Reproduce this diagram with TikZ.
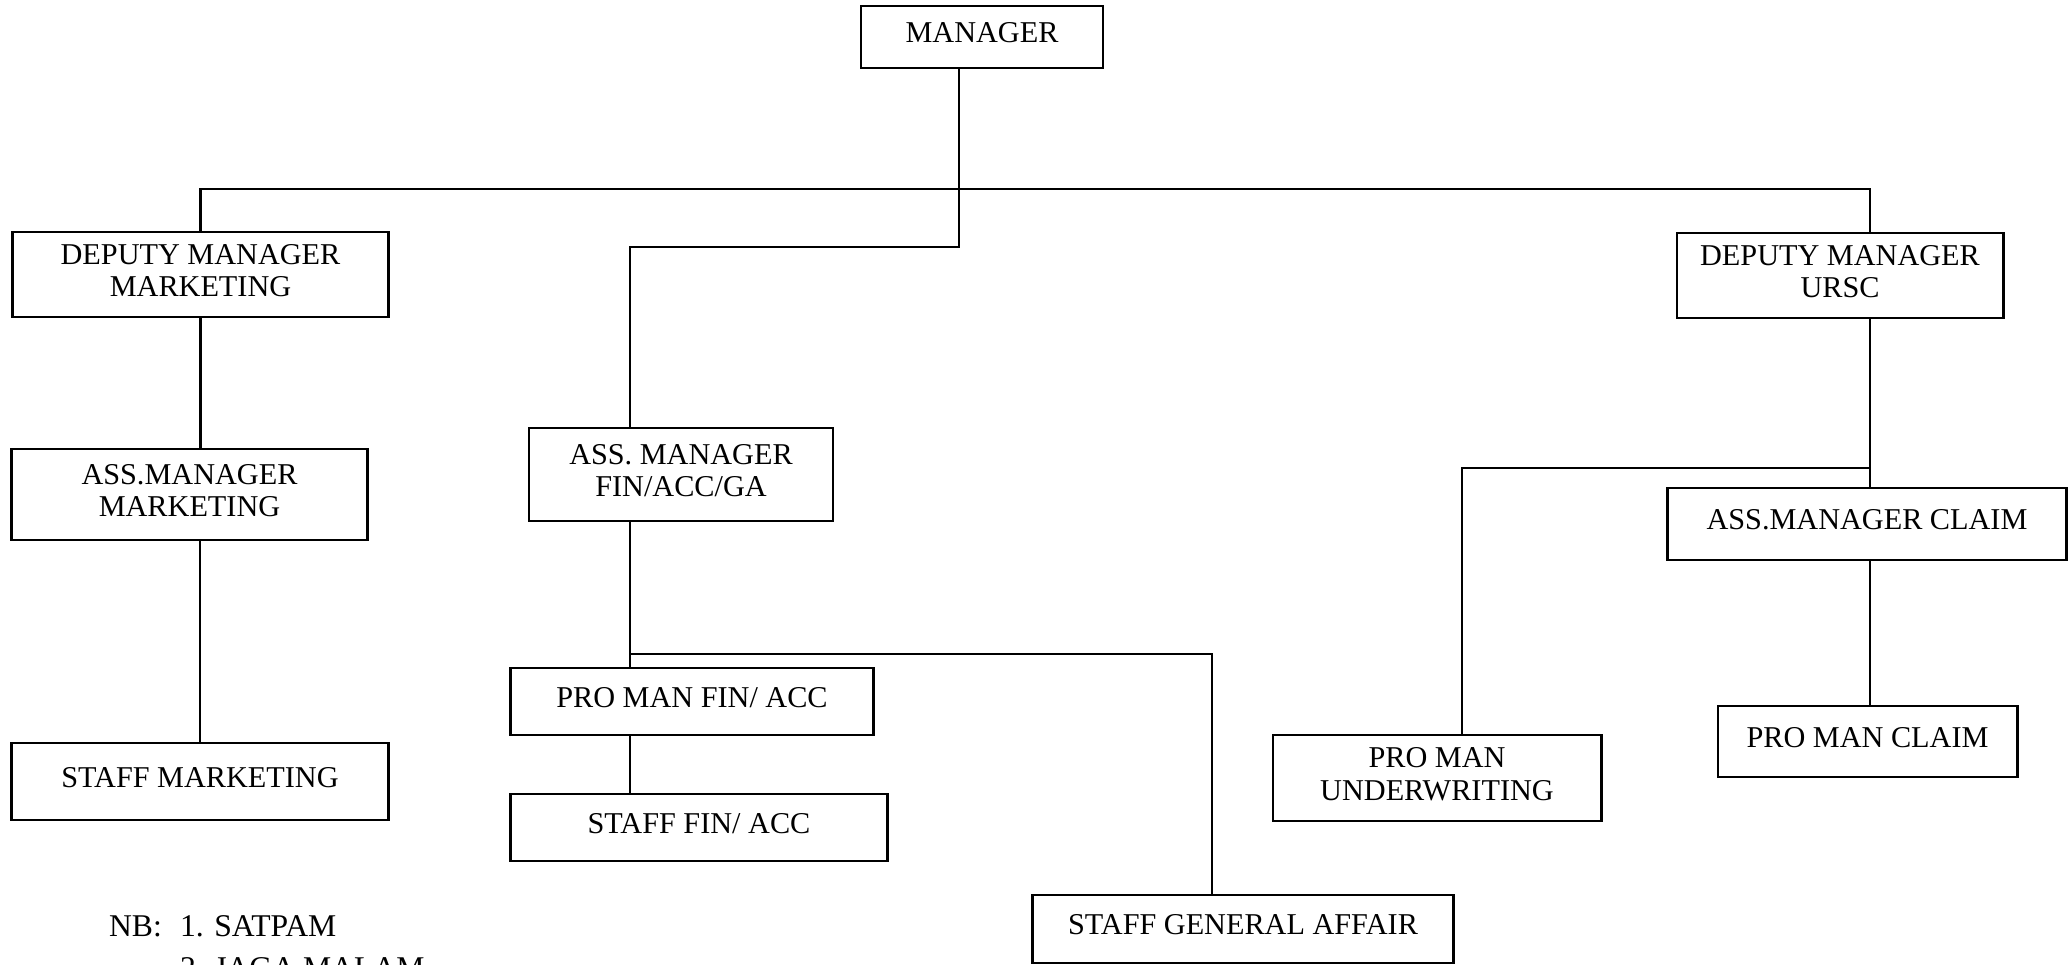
\documentclass[tikz,border=0pt]{standalone}
\usepackage{fontspec}
\setmainfont{Liberation Serif}

\begin{document}
\begin{tikzpicture}[x=0.01cm, y=-0.01cm, line width=0.6pt,
  font=\fontsize{8.6}{9.2}\selectfont,
  box/.style={draw, line width=0.8pt, inner sep=0pt, align=center,
    text depth=0.08cm},
  note/.style={anchor=base west, inner sep=0pt,
    font=\fontsize{9}{11}\selectfont}]
  \useasboundingbox (0,0) rectangle (2068,965);

  % boxes
  \node[box, minimum width=2.42cm, minimum height=0.62cm] (mgr) at (982,37) {MANAGER};
  \node[box, minimum width=3.75cm, minimum height=0.85cm] (dmm) at (200.5,274.5) {DEPUTY MANAGER\\MARKETING};
  \node[box, minimum width=3.26cm, minimum height=0.85cm] (dmu) at (1840,275.5) {DEPUTY MANAGER\\URSC};
  \node[box, minimum width=3.55cm, minimum height=0.91cm] (amm) at (189.5,494.5) {ASS.MANAGER\\MARKETING};
  \node[box, minimum width=3.76cm, minimum height=0.77cm] (smk) at (200,781.5) {STAFF MARKETING};
  \node[box, minimum width=3.04cm, minimum height=0.93cm] (amf) at (681,474.5) {ASS. MANAGER\\FIN/ACC/GA};
  \node[box, minimum width=3.62cm, minimum height=0.67cm] (pmf) at (692,701.5) {PRO MAN FIN/ ACC};
  \node[box, minimum width=3.76cm, minimum height=0.67cm] (sfa) at (699,827.5) {STAFF FIN/ ACC};
  \node[box, minimum width=4.20cm, minimum height=0.68cm] (sga) at (1243,929) {STAFF GENERAL AFFAIR};
  \node[box, minimum width=3.28cm, minimum height=0.86cm] (pmu) at (1437,778) {PRO MAN\\UNDERWRITING};
  \node[box, minimum width=3.98cm, minimum height=0.72cm] (amc) at (1867,524) {ASS.MANAGER CLAIM};
  \node[box, minimum width=2.99cm, minimum height=0.71cm] (pmc) at (1867.5,741.5) {PRO MAN CLAIM};

  % junctions
  \coordinate (top) at (959,189);
  \coordinate (ursc) at (1870,189);
  \coordinate (finx) at (630,247);
  \coordinate (gafork) at (630,654);
  \coordinate (gax) at (1212,654);
  \coordinate (uwfork) at (1870,468);
  \coordinate (uwx) at (1462,468);

  % connectors
  \draw (mgr.south -| top) -- (top);
  \draw (dmm.north) |- (ursc) -- (dmu.north -| ursc);
  \draw (top) |- (finx) -- (amf.north -| finx);
  \draw (dmm.south) -- (dmm.south |- amm.north);
  \draw (smk.north |- amm.south) -- (smk.north);
  \draw (amf.south -| gafork) -- (pmf.north -| gafork);
  \draw (gafork) -- (gax) -- (sga.north -| gax);
  \draw (pmf.south -| gafork) -- (sfa.north -| gafork);
  \draw (dmu.south -| uwfork) -- (amc.north -| uwfork);
  \draw (uwfork) -- (uwx) -- (pmu.north -| uwx);
  \draw (amc.south -| uwfork) -- (pmc.north -| uwfork);

  % note
  \node[note] (nb) at (108,937) {NB:};
  \node[note] (satpam) at (179,937) {1. SATPAM};
  \node[note] (jaga) at (179,979) {2. JAGA MALAM};
\end{tikzpicture}
\end{document}
